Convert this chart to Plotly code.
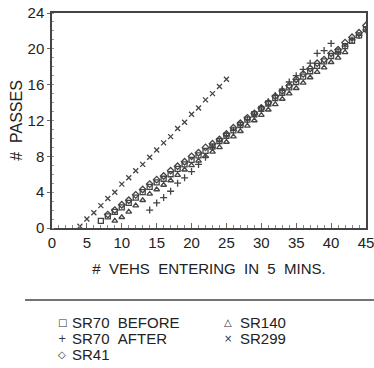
import plotly.graph_objects as go

# ---- data ----
x_sr299 = list(range(4, 26))
y_sr299 = [0.2, 1.0, 1.7, 2.5, 3.3, 4.0, 4.9, 5.6, 6.4, 7.1, 7.9, 8.7, 9.5, 10.2,
           11.1, 11.8, 12.7, 13.4, 14.3, 15.0, 15.8, 16.6]

x_sr70_before = list(range(7, 46))
y_sr70_before = [0.8, 1.3, 1.8, 2.3, 2.8, 3.4, 4.0, 4.6, 5.1, 5.5, 6.0, 6.6, 7.1, 7.6,
                 8.1, 8.6, 9.1, 9.7, 10.3, 10.9, 11.5, 12.1, 12.7, 13.3, 13.9, 14.5,
                 15.1, 15.7, 16.3, 16.9, 17.5, 18.1, 18.6, 19.2, 19.7, 20.3, 20.9,
                 21.5, 22.2]

x_sr41 = list(range(8, 46))
y_sr41 = [1.5, 2.0, 2.6, 3.1, 3.7, 4.3, 4.9, 5.4, 5.8, 6.4, 6.9, 7.4, 8.0, 8.4, 9.0,
          9.4, 9.9, 10.5, 11.2, 11.7, 12.3, 12.8, 13.4, 14.0, 14.7, 15.3, 15.9,
          16.6, 17.2, 17.8, 18.4, 18.8, 19.5, 19.9, 20.7, 21.3, 21.8, 22.6]

x_sr140 = list(range(9, 43))
y_sr140 = [0.8, 1.2, 1.8, 2.5, 3.1, 3.8, 4.3, 4.8, 5.3, 5.9, 6.5, 7.0, 7.5, 8.0, 8.5,
           9.0, 9.6, 10.2, 10.8, 11.4, 12.0, 12.6, 13.2, 13.8, 14.4, 15.0, 15.6,
           16.2, 16.8, 17.4, 17.9, 18.5, 19.0, 19.6]

x_sr70_after = list(range(14, 46))
y_sr70_after = [2.0, 2.8, 3.4, 4.1, 5.0, 5.6, 6.3, 7.1, 7.9, 9.0, 9.7, 10.3, 10.9,
                11.5, 12.1, 12.7, 13.4, 14.1, 14.8, 15.5, 16.3, 17.0, 17.7, 18.4,
                19.5, 19.8, 20.6, 19.6, 20.3, 21.0, 21.5, 22.1]

x_ticks = list(range(0, 46, 5))
y_ticks = list(range(0, 25, 4))

NB = "\u00a0"
FONT = "Liberation Sans, Arial, sans-serif"
MC = "#444444"

# name, x, y, plot symbol, legend glyph, legend column, legend row
series = [
    ("SR70" + NB * 2 + "BEFORE", x_sr70_before, y_sr70_before, "square-open", "\u25a1", 0, 0),
    ("SR70" + NB * 2 + "AFTER", x_sr70_after, y_sr70_after, "cross-thin-open", "+", 0, 1),
    ("SR41", x_sr41, y_sr41, "diamond-open", "\u25c7", 0, 2),
    ("SR140", x_sr140, y_sr140, "triangle-up-open", "\u25b3", 1, 0),
    ("SR299", x_sr299, y_sr299, "x-thin-open", "\u00d7", 1, 1),
]

fig = go.Figure()
for name, xs, ys, sym, glyph, col, row in series:
    fig.add_trace(go.Scatter(
        x=xs, y=ys, mode="markers", name=name, showlegend=False,
        marker=dict(symbol=sym, size=5, color=MC, line=dict(width=1.3, color=MC)),
    ))

# legend block drawn as text below the chart (pixel layout converted to paper coords)
L, W, B, H = 52, 314, 228, 215
col_glyph_px = [62, 228]
col_text_px = [70, 238]
row_px = [322, 338, 354]
annotations = []
for name, xs, ys, sym, glyph, col, row in series:
    yp = (B - row_px[row]) / H
    annotations.append(dict(
        xref="paper", yref="paper", x=(col_glyph_px[col] - L) / W, y=yp,
        xanchor="center", yanchor="middle", showarrow=False,
        text=glyph, font=dict(size=10, family="DejaVu Sans", color="#333")))
    annotations.append(dict(
        xref="paper", yref="paper", x=(col_text_px[col] - L) / W, y=yp,
        xanchor="left", yanchor="middle", showarrow=False,
        text=name, font=dict(size=15, family=FONT, color="#222")))

fig.update_layout(
    width=374, height=368,
    margin=dict(l=52, r=8, t=13, b=140, autoexpand=False),
    paper_bgcolor="white", plot_bgcolor="white",
    font=dict(family=FONT, size=15, color="#222"),
    showlegend=False,
    xaxis=dict(
        range=[0, 45], tickvals=x_ticks, ticktext=[str(v) for v in x_ticks],
        showgrid=False, zeroline=False, showline=True, mirror=True,
        linecolor="#444", linewidth=1.5,
        ticks="inside", ticklen=5, tickcolor="#666",
        minor=dict(dtick=1, ticks="inside", ticklen=3, tickcolor="#888"),
        tickfont=dict(size=15, family=FONT, color="#222"),
        ticklabeloverflow="allow",
        title=dict(text="#" + NB * 2 + "VEHS" + NB * 2 + "ENTERING" + NB * 2 + "IN" + NB * 2 + "5" + NB * 2 + "MINS.",
                   font=dict(size=15, family=FONT, color="#222"), standoff=14),
    ),
    yaxis=dict(
        range=[0, 24], tickvals=y_ticks, ticktext=[str(v) for v in y_ticks],
        showgrid=False, zeroline=False, showline=True, mirror=True,
        linecolor="#444", linewidth=1.5,
        ticks="outside", ticklen=3, tickcolor="#666",
        minor=dict(dtick=1, ticks="inside", ticklen=2, tickcolor="#999"),
        tickfont=dict(size=15, family=FONT, color="#222"),
        ticklabeloverflow="allow",
        title=dict(text="#" + NB * 2 + "PASSES", font=dict(size=16, family=FONT, color="#222"),
                   standoff=1),
    ),
    annotations=annotations,
    shapes=[dict(type="line", xref="paper", yref="paper", x0=-0.086, x1=1.03,
                 y0=(B - 300) / H, y1=(B - 300) / H, line=dict(color="#444", width=1.5))],
)

fig.write_html("out.html")
